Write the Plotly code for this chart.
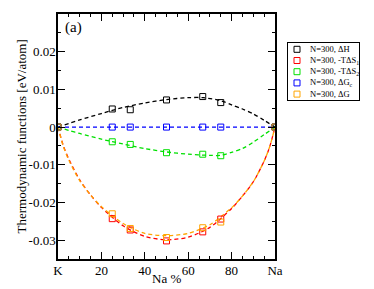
import plotly.graph_objects as go

# ---- data ----
na_pct = [0, 25, 33.3, 50, 66.7, 75, 100]
dH     = [0, 0.0048, 0.0046, 0.0072, 0.0081, 0.0065, 0]
mTdS1  = [0, -0.0243, -0.0273, -0.0302, -0.0278, -0.0244, 0]
mTdS2  = [0, -0.0039, -0.0046, -0.0068, -0.0072, -0.0076, 0]
dGc    = [0, 0, 0, 0, 0, 0, 0]
dG     = [0, -0.0230, -0.0269, -0.0293, -0.0267, -0.0252, 0]

# fitted (dashed) curves
fit_x_h  = [0, 10, 20, 30, 40, 50, 60, 67, 75, 80, 85, 90, 95, 100]
fit_dH   = [0, 0.0019, 0.0036, 0.0052, 0.0064, 0.0073, 0.0078, 0.0078, 0.0070, 0.0059, 0.0048, 0.0035, 0.0018, 0]
fit_x_s2 = [0, 5, 10, 20, 30, 40, 50, 60, 70, 75, 80, 85, 90, 95, 100]
fit_dS2  = [0, -0.0009, -0.0017, -0.0032, -0.0045, -0.0057, -0.0066, -0.0072, -0.0075, -0.0075, -0.0067, -0.0057, -0.0040, -0.0020, 0]
fit_x_g  = [0, 2.5, 5, 10, 15, 20, 30, 40, 50, 60, 70, 80, 85, 90, 95, 97.5, 100]
fit_dS1  = [0, -0.0050, -0.0085, -0.0140, -0.0180, -0.0213, -0.0262, -0.0290, -0.0299, -0.0292, -0.0266, -0.0216, -0.0183, -0.0145, -0.0090, -0.0053, 0]
fit_dG   = [0, -0.0052, -0.0088, -0.0142, -0.0180, -0.0211, -0.0256, -0.0282, -0.0288, -0.0282, -0.0259, -0.0214, -0.0183, -0.0145, -0.0090, -0.0053, 0]
fit_x_c  = [0, 100]
fit_dGc  = [0, 0]

x_ticks = [0, 20, 40, 60, 80, 100]
x_labels = ["K", "20", "40", "60", "80", "Na"]
y_ticks = [-0.03, -0.02, -0.01, 0, 0.01, 0.02]
y_labels = ["-0.03", "-0.02", "-0.01", "0", "0.01", "0.02"]

names = ["N=300, ΔH", "N=300, -TΔS<sub>1</sub>", "N=300, -TΔS<sub>2</sub>",
         "N=300, ΔG<sub>c</sub>", "N=300, ΔG"]
colors = ["#000000", "#ff0000", "#00e000", "#0000ff", "#ffa500"]

FONT = "Liberation Serif, Times New Roman, serif"

# page offset (the page body adds an 8 px margin); layout in reference pixels minus this
OFF = 8
W, H = 374 - OFF, 289 - OFF
PL, PR, PT, PB = 58 - OFF, 275 - OFF, 14 - OFF, 259 - OFF      # main plot box
LL, LR, LT, LB = 288 - OFF, 359 - OFF, 43 - OFF, 100 - OFF     # legend box
ml, mt = PL, PT
mr = 11
mb = H - PB
pw = W - ml - mr
ph = H - mt - mb


def px(x):
    return (x - ml) / pw


def py(y):
    return 1 - (y - mt) / ph


fig = go.Figure()

fits = [(fit_x_h, fit_dH), (fit_x_g, fit_dS1), (fit_x_s2, fit_dS2), (fit_x_c, fit_dGc), (fit_x_g, fit_dG)]
pts = [dH, mTdS1, mTdS2, dGc, dG]

for (fx, fy), c in zip(fits, colors):
    fig.add_trace(go.Scatter(x=fx, y=fy, mode="lines",
                             line=dict(color=c, width=1.3, dash="4px,3px", shape="spline", smoothing=0.8),
                             showlegend=False, hoverinfo="skip"))
for yv, c, n in zip(pts, colors, names):
    fig.add_trace(go.Scatter(x=na_pct, y=yv, mode="markers", name=n,
                             marker=dict(symbol="square-open", size=6, color=c, line=dict(width=1, color=c)),
                             showlegend=False))

# manual legend drawn in its own small axes (units = pixels inside the legend box)
leg_y = [6.3 + 11.2 * i for i in range(len(names))]
fig.add_trace(go.Scatter(x=[9] * len(names), y=leg_y, mode="markers", xaxis="x2", yaxis="y2",
                         marker=dict(symbol="square-open", size=6, color=colors, line=dict(width=1, color=colors)),
                         showlegend=False, hoverinfo="skip"))
for yy, n in zip(leg_y, names):
    fig.add_annotation(x=20, y=yy, xref="x2", yref="y2", text=n, showarrow=False, xanchor="left", yanchor="middle",
                       font=dict(family=FONT, size=8.5, color="black"))

axis_common = dict(showline=True, linecolor="black", linewidth=1.5, mirror="allticks", ticks="inside",
                   ticklen=7, tickwidth=1, tickcolor="black", showgrid=False, zeroline=False, automargin=False,
                   tickfont=dict(family=FONT, size=13, color="black"))

fig.update_layout(
    width=W, height=H, margin=dict(l=ml, r=mr, t=mt, b=mb, autoexpand=False),
    paper_bgcolor="white", plot_bgcolor="white",
    font=dict(family=FONT, size=13, color="black"),
    showlegend=False,
    xaxis=dict(domain=[0, px(PR)], range=[0, 100], tickvals=x_ticks, ticktext=x_labels, ticklabelstandoff=-1,
               minor=dict(ticks="inside", dtick=5, tick0=0, ticklen=3.5, tickcolor="black", showgrid=False),
               **axis_common),
    yaxis=dict(range=[-0.035, 0.03], tickvals=y_ticks, ticktext=y_labels, ticklabelstandoff=-2,
               minor=dict(ticks="inside", dtick=0.005, tick0=0, ticklen=3.5, tickcolor="black", showgrid=False),
               **axis_common),
    xaxis2=dict(domain=[px(LL), px(LR)], range=[0, LR - LL], anchor="y2", showline=True,
                linecolor="black", linewidth=1, mirror=True, ticks="", showticklabels=False, showgrid=False,
                zeroline=False, fixedrange=True),
    yaxis2=dict(domain=[py(LB), py(LT)], range=[LB - LT, 0], anchor="x2", showline=True,
                linecolor="black", linewidth=1, mirror=True, ticks="", showticklabels=False, showgrid=False,
                zeroline=False, fixedrange=True),
)

# axis titles
fig.add_annotation(x=px((PL + PR) / 2), y=py(278 - OFF), xref="paper", yref="paper", text="Na %",
                   showarrow=False, xanchor="center", yanchor="middle", font=dict(family=FONT, size=13, color="black"))
fig.add_annotation(x=px(21 - OFF), y=py((PT + PB) / 2), xref="paper", yref="paper",
                   text="Thermodynamic functions [eV/atom]",
                   textangle=-90, showarrow=False, xanchor="center", yanchor="middle",
                   font=dict(family=FONT, size=13, color="black"))

fig.add_annotation(x=px(63 - OFF), y=py(27.5 - OFF), xref="paper", yref="paper", text="(a)", showarrow=False,
                   xanchor="left", yanchor="middle", font=dict(family=FONT, size=15, color="black"))

fig.write_html("out.html")
